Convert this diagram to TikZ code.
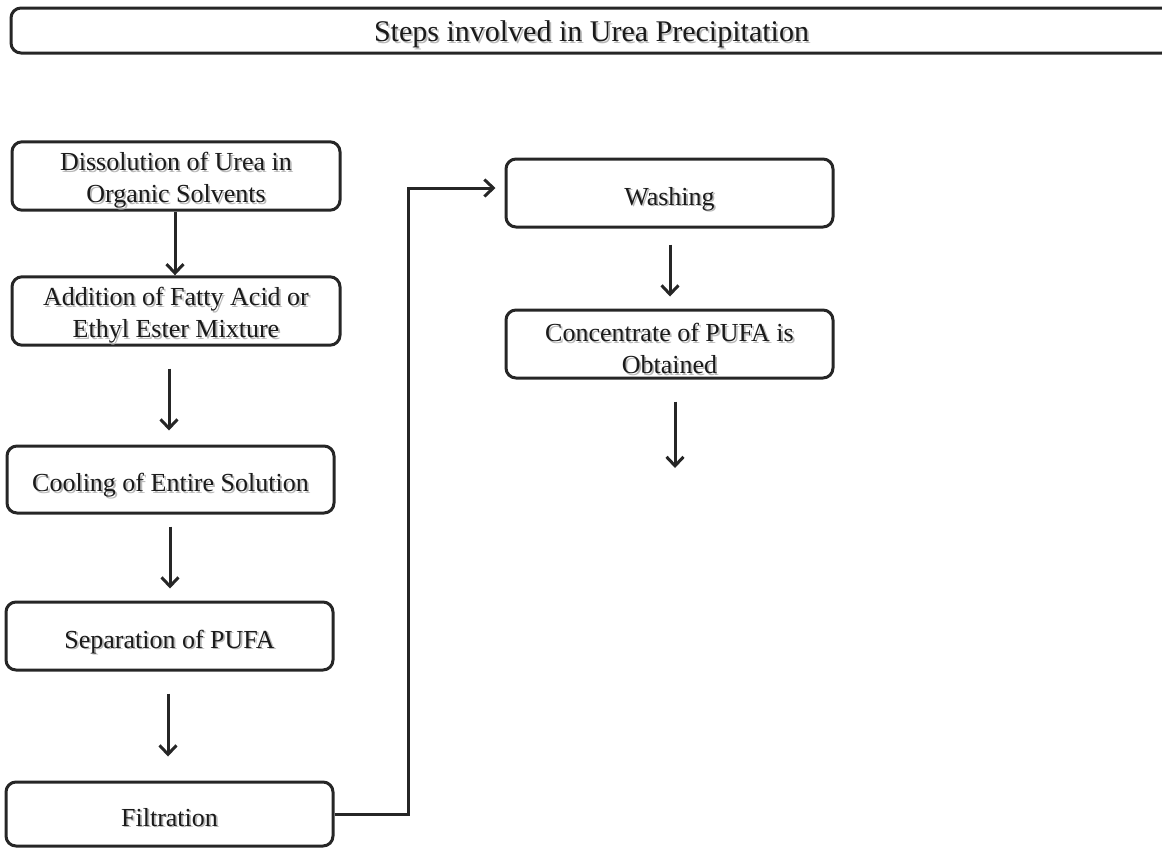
\documentclass[tikz,border=0pt]{standalone}
\usepackage{fontspec}
\setmainfont{Liberation Serif}
\usetikzlibrary{arrows.meta}
\definecolor{inkline}{HTML}{262626}
\definecolor{inktext}{HTML}{1A1A1A}
\definecolor{shadowgray}{HTML}{B8B8B8}
% text with a soft offset shadow behind it
\newcommand{\shd}[1]{\rlap{\hspace{1.8pt}\raisebox{-1.8pt}{\textcolor{shadowgray}{#1}}}#1}
% taller first line, so two-line labels sit a little lower in their boxes
\newcommand{\firstline}{\rule{0pt}{29pt}}
\tikzset{
  stepbox/.style={draw=inkline, line width=3pt, rounded corners=10pt,
    minimum width=327pt, minimum height=68pt, align=center,
    text=inktext, font=\fontsize{26}{32}\selectfont, inner sep=0pt},
  oneline/.style={text height=26pt, text depth=2pt},
  flow/.style={draw=inkline, line width=3pt,
    -{Straight Barb[length=9pt,width=17pt,line width=3pt]}},
}
\begin{document}
\begin{tikzpicture}[x=1pt, y=-1pt]
\useasboundingbox (0,0) rectangle (1162,847);
\clip (0,0) rectangle (1162,847);

% title banner, running off the right edge
\node[stepbox, minimum width=1161pt, minimum height=45pt,
      font=\fontsize{30}{34}\selectfont, text height=26pt, text depth=3.5pt]
  (title) at (591.5,30.5)
  {\shd{Steps involved in Urea Precipitation}};

% left column
\node[stepbox, minimum width=328pt] (diss) at (176,176)
  {\firstline\shd{Dissolution of Urea in}\\\shd{Organic Solvents}};
\node[stepbox, minimum width=328pt] (add) at (176,311)
  {\firstline\shd{Addition of Fatty Acid or}\\\shd{Ethyl Ester Mixture}};
\node[stepbox, oneline, minimum height=67pt] (cool) at (170.5,479.5)
  {\shd{Cooling of Entire Solution}};
\node[stepbox, oneline] (sep) at (169.5,636)
  {\shd{Separation of PUFA}};
\node[stepbox, oneline, minimum height=64pt] (filt) at (169.5,814)
  {\shd{Filtration}};

% right column
\node[stepbox, oneline] (wash) at (669.5,193)
  {\shd{Washing}};
\node[stepbox] (conc) at (669.5,344)
  {\firstline\shd{Concentrate of PUFA is}\\\shd{Obtained}};
\coordinate (endpt) at (675,468);

% connectors
\draw[flow] ([xshift=-1pt]diss.south) -- ([xshift=-1pt]add.north);
\draw[flow, shorten <=22pt, shorten >=14pt] ([xshift=-7pt]add.south) -- ([xshift=-7pt]add.south |- cool.north);
\draw[flow, shorten <=12pt, shorten >=12pt] ([xshift=-0.5pt]cool.south) -- ([xshift=-0.5pt]cool.south |- sep.north);
\draw[flow, shorten <=22pt, shorten >=24pt] ([xshift=-1.5pt]sep.south) -- ([xshift=-1.5pt]sep.south |- filt.north);
\draw[flow, shorten >=9pt] (filt.east) -- (408,814) |- ([yshift=5pt]wash.west);
\draw[flow, shorten <=16pt, shorten >=12pt] ([xshift=0.5pt]wash.south) -- ([xshift=0.5pt]conc.north);
\draw[flow, shorten <=22pt] ([xshift=5.5pt]conc.south) -- (endpt);
\end{tikzpicture}
\end{document}
